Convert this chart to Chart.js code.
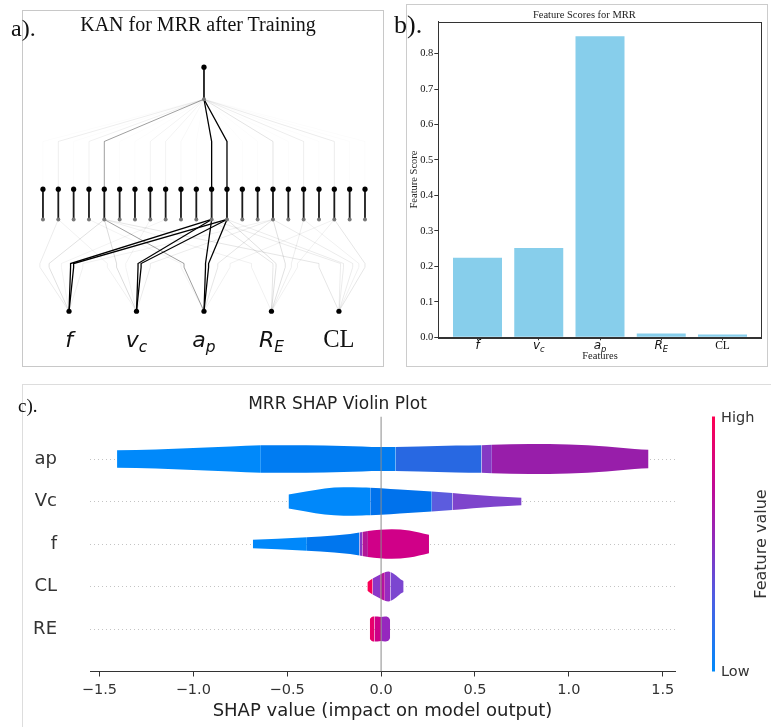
<!DOCTYPE html>
<html>
<head>
<meta charset="utf-8">
<script src="https://cdn.jsdelivr.net/npm/chart.js@4.4.1/dist/chart.umd.min.js"></script>
<style>
html, body { margin: 0; padding: 0; background: #fff; }
body { position: relative; width: 771px; height: 727px; overflow: hidden; }
.box { position: absolute; box-sizing: border-box; }
canvas { position: absolute; }
.tag { position: absolute; font-family: "Liberation Serif", "Times New Roman", serif; color: #111; line-height: 1; white-space: nowrap; z-index: 5; }
</style>
</head>
<body>
<div class="box" style="left:22px;top:10px;width:362px;height:357px;border:1px solid #c8c8c8;"></div>
<div class="box" style="left:406px;top:4px;width:362px;height:363px;border:1px solid #cccccc;"></div>
<div class="box" style="left:22px;top:384px;width:749px;height:343px;border-left:1px solid #dddddd;border-top:1px solid #dddddd;"></div>

<canvas id="kan" width="360" height="336" style="left:23px;top:30px;width:360px;height:336px;"></canvas>
<canvas id="scores" width="359" height="361" style="left:407px;top:5px;width:359px;height:361px;"></canvas>
<canvas id="shap" width="771" height="342" style="left:0px;top:385px;width:771px;height:342px;"></canvas>

<div class="tag" style="left:11px;top:16px;font-size:24px;">a).</div>
<div class="tag" style="left:48px;top:14px;width:300px;text-align:center;font-size:20px;">KAN for MRR after Training</div>
<div class="tag" style="left:394px;top:12px;font-size:26px;">b).</div>
<div class="tag" style="left:18px;top:396px;font-size:19px;">c).</div>

<script>
// ---------- a) KAN network ----------
const inputNames = ["f", "v_c", "a_p", "R_E", "CL"];
const hiddenCount = 22;
// edge strength input -> hidden node (rows: f, vc, ap, RE, CL)
const layer0Strength = [
    [0, 0.08, 0, 0, 0.12, 0, 0, 0, 0.05, 0, 0, 1, 1, 0, 0, 0.06, 0, 0, 0, 0, 0, 0],
    [0, 0.06, 0, 0, 0.14, 0, 0, 0.05, 0, 0, 0, 1, 1, 0, 0, 0.08, 0, 0, 0, 0, 0, 0],
    [0, 0, 0, 0.05, 0.38, 0, 0, 0, 0, 0, 0, 1, 1, 0, 0, 0.1, 0, 0, 0, 0.06, 0, 0],
    [0, 0, 0, 0, 0.06, 0, 0, 0, 0, 0, 0, 0.1, 0.12, 0, 0, 0.12, 0, 0.07, 0, 0.06, 0, 0],
    [0, 0, 0, 0, 0.1, 0, 0, 0, 0, 0, 0, 0.08, 0.08, 0, 0, 0.08, 0, 0.06, 0, 0.1, 0, 0]
];
// edge strength hidden node -> output
const layer1Strength = [0.015, 0.07, 0.015, 0.06, 0.38, 0.015, 0.015, 0.05, 0.05, 0.03, 0.015, 1, 1, 0.015, 0.015, 0.11, 0.015, 0.07, 0.015, 0.08, 0.015, 0.015];

// ---------- b) feature scores ----------
const scoreLabels = ["f", "v_c", "a_p", "R_E", "CL"];
const scoreValues = [0.224, 0.252, 0.849, 0.0105, 0.0078];

// ---------- c) SHAP violins ----------
const violinFeatures = ["ap", "Vc", "f", "CL", "RE"];
const shapTicks = [-1.5, -1.0, -0.5, 0.0, 0.5, 1.0, 1.5];

const apShap = [-1.406, -1.2, -1.0, -0.8, -0.64, -0.4, -0.2, 0.0, 0.078, 0.2, 0.4, 0.535, 0.59, 0.79, 1.0, 1.2, 1.35, 1.424];
const apDensity = [0.205, 0.224, 0.259, 0.294, 0.322, 0.325, 0.306, 0.282, 0.282, 0.294, 0.318, 0.325, 0.334, 0.353, 0.341, 0.294, 0.235, 0.216];
const vcShap = [-0.493, -0.4, -0.3, -0.2, -0.1, -0.058, 0.0, 0.1, 0.27, 0.38, 0.49, 0.6, 0.748];
const vcDensity = [0.165, 0.235, 0.306, 0.334, 0.329, 0.325, 0.313, 0.282, 0.235, 0.2, 0.158, 0.122, 0.087];
const fShap = [-0.683, -0.55, -0.395, -0.25, -0.165, -0.115, -0.1, -0.07, 0.057, 0.15, 0.255];
const fDensity = [0.099, 0.125, 0.16, 0.2, 0.235, 0.271, 0.282, 0.306, 0.348, 0.318, 0.216];
const clShap = [-0.073, -0.045, -0.005, 0.02, 0.039, 0.05, 0.08, 0.105, 0.12];
const clDensity = [0.099, 0.188, 0.282, 0.334, 0.353, 0.341, 0.259, 0.165, 0.129];
const reShap = [-0.06, -0.05, -0.035, -0.02, 0.0, 0.02, 0.04, 0.048];
const reDensity = [0.235, 0.282, 0.294, 0.294, 0.282, 0.294, 0.271, 0.212];

// colour of each stretch of a violin: [upper x bound, colour]
const violinBands = {
    ap: [[-0.64, "rgb(0,137,250)"], [0.078, "rgb(0,124,242)"], [0.535, "rgb(40,104,226)"], [0.59, "rgb(132,58,196)"], [Infinity, "rgb(152,30,170)"]],
    Vc: [[-0.058, "rgb(0,136,250)"], [0.27, "rgb(0,114,236)"], [0.38, "rgb(92,92,222)"], [Infinity, "rgb(126,68,204)"]],
    f: [[-0.395, "rgb(0,136,250)"], [-0.115, "rgb(0,118,238)"], [-0.1, "rgb(130,60,200)"], [-0.07, "rgb(178,22,152)"], [Infinity, "rgb(208,0,136)"]],
    CL: [[-0.045, "rgb(250,0,86)"], [-0.005, "rgb(140,55,200)"], [0.02, "rgb(184,18,158)"], [0.05, "rgb(150,45,192)"], [Infinity, "rgb(124,70,208)"]],
    RE: [[-0.035, "rgb(232,0,108)"], [0.0, "rgb(204,0,136)"], [Infinity, "rgb(150,40,190)"]]
};
const violinData = {
    ap: [apShap, apDensity],
    Vc: [vcShap, vcDensity],
    f: [fShap, fDensity],
    CL: [clShap, clDensity],
    RE: [reShap, reDensity]
};
const colorbarStops = [[0, "rgb(0,138,250)"], [0.3, "rgb(80,92,226)"], [0.5, "rgb(140,45,190)"], [0.72, "rgb(192,10,150)"], [1, "rgb(255,0,82)"]];

// text with an optional subscript, e.g. "v_c"
function drawMathLabel(ctx, label, cx, baseY, size, romanSize) {
    const [base, sub] = label.split("_");
    ctx.save();
    ctx.fillStyle = "#111";
    ctx.textBaseline = "alphabetic";
    if (!sub && base.length > 1) {
        ctx.font = `${romanSize}px "Liberation Serif"`;
        ctx.textAlign = "center";
        ctx.fillText(base, cx, baseY);
    } else {
        const mainFont = `italic ${size}px "DejaVu Sans"`;
        const subFont = `italic ${size * 0.7}px "DejaVu Sans"`;
        ctx.font = mainFont;
        const w1 = ctx.measureText(base).width;
        ctx.font = subFont;
        const w2 = sub ? ctx.measureText(sub).width : 0;
        const left = cx - (w1 + w2) / 2;
        ctx.textAlign = "left";
        ctx.font = mainFont;
        ctx.fillText(base, left, baseY);
        if (sub) {
            ctx.font = subFont;
            ctx.fillText(sub, left + w1, baseY + size * 0.22);
        }
    }
    ctx.restore();
}

// ---------- chart a ----------
const inputX = inputNames.map((_, i) => (i + 0.5) / inputNames.length);
const hiddenX = Array.from({ length: hiddenCount }, (_, j) => (j + 0.5) / hiddenCount);
const actX = (i, j) => (i * hiddenCount + j + 0.5) / (inputNames.length * hiddenCount);
const level = { input: 0, act0: 0.5, hidSum: 1, hidNode: 1.33, act1: 1.83, outSum: 2.31, outNode: 2.66 };

const edge = (pts, s) => ({
    data: pts.map(([x, y]) => ({ x, y })),
    showLine: true,
    borderColor: `rgba(0,0,0,${s})`,
    borderWidth: s > 0.5 ? 1.3 : 1,
    pointRadius: 0,
    order: 2 - s
});

const kanSets = [];
layer0Strength.forEach((row, i) => row.forEach((s, j) => {
    if (!s) return;
    const mx = actX(i, j);
    kanSets.push(edge([[inputX[i], level.input], [mx, level.act0 - 0.02], [mx, level.act0 + 0.02], [hiddenX[j], level.hidSum]], s));
}));
layer1Strength.forEach((s, j) => {
    kanSets.push(edge([[hiddenX[j], level.hidNode], [hiddenX[j], level.act1 - 0.02], [hiddenX[j], level.act1 + 0.02], [0.5, level.outSum]], s));
});
hiddenX.forEach((hx) => {
    kanSets.push({ data: [{ x: hx, y: level.hidSum }, { x: hx, y: level.hidNode }], showLine: true, borderColor: "#1a1a1a", borderWidth: 1.8, pointRadius: 0, order: 0 });
});
kanSets.push({ data: [{ x: 0.5, y: level.outSum }, { x: 0.5, y: level.outNode }], showLine: true, borderColor: "#1a1a1a", borderWidth: 1.8, pointRadius: 0, order: 0 });
const dots = (pts, r, color) => ({ data: pts, pointRadius: r, backgroundColor: color, borderWidth: 0, showLine: false, order: -1 });
kanSets.push(dots(hiddenX.map((x) => ({ x, y: level.hidSum })), 2, "#777"));
kanSets.push(dots(hiddenX.map((x) => ({ x, y: level.hidNode })), 2.6, "#000"));
kanSets.push(dots(inputX.map((x) => ({ x, y: level.input })), 2.6, "#000"));
kanSets.push(dots([{ x: 0.5, y: level.outSum }], 2, "#777"));
kanSets.push(dots([{ x: 0.5, y: level.outNode }], 2.6, "#000"));

new Chart(document.getElementById("kan"), {
    type: "scatter",
    data: { datasets: kanSets },
    options: {
        responsive: false,
        animation: false,
        events: [],
        layout: { padding: 0 },
        scales: {
            x: { type: "linear", display: false, min: -0.0246, max: 1.0188 },
            y: { type: "linear", display: false, min: -0.553, max: 3.021 }
        },
        plugins: { legend: { display: false }, tooltip: { enabled: false } }
    },
    plugins: [{
        id: "inputLabels",
        afterDraw(chart) {
            const { ctx, scales: { x, y } } = chart;
            inputNames.forEach((name, i) => {
                drawMathLabel(ctx, name, x.getPixelForValue(inputX[i]), y.getPixelForValue(-0.394), 22, 24.5);
            });
        }
    }]
});

// ---------- chart b ----------
new Chart(document.getElementById("scores"), {
    type: "bar",
    data: {
        datasets: [{
            data: scoreValues.map((v, i) => ({ x: i, y: v })),
            backgroundColor: "#87CEEB",
            borderWidth: 0,
            categoryPercentage: 1,
            barPercentage: 0.8
        }]
    },
    options: {
        responsive: false,
        animation: false,
        events: [],
        layout: { padding: { left: 0, right: 4.3, top: 0, bottom: 0 } },
        scales: {
            x: {
                type: "linear",
                min: -0.64,
                max: 4.64,
                offset: false,
                afterBuildTicks: (s) => { s.ticks = scoreLabels.map((_, i) => ({ value: i })); },
                afterFit: (s) => { s.height = 28.7; },
                ticks: { callback: () => "", padding: 0 },
                grid: { offset: false, drawOnChartArea: false, tickLength: 3, tickColor: "#333" },
                border: { color: "#333" },
                title: { display: true, text: "Features", color: "#222", font: { family: "Liberation Serif", size: 10.5 }, padding: { top: 0, bottom: 3.3 } }
            },
            y: {
                min: 0,
                max: 0.89,
                afterFit: (s) => { s.width = 31.3; },
                ticks: { stepSize: 0.1, includeBounds: false, callback: (v) => v.toFixed(1), color: "#111", font: { family: "Liberation Serif", size: 10.5 }, padding: 1 },
                grid: { drawOnChartArea: false, tickLength: 4, tickColor: "#333" },
                border: { color: "#333" },
                title: { display: true, text: "Feature Score", color: "#222", font: { family: "Liberation Serif", size: 10.5 }, padding: { top: 1, bottom: 0 } }
            }
        },
        plugins: {
            legend: { display: false },
            tooltip: { enabled: false },
            title: { display: true, text: "Feature Scores for MRR", color: "#222", font: { family: "Liberation Serif", size: 10.5, weight: "normal" }, padding: { top: 4, bottom: 0.1 } }
        }
    },
    plugins: [{
        id: "frameAndLabels",
        afterDraw(chart) {
            const { ctx, chartArea: a, scales: { x } } = chart;
            ctx.save();
            ctx.strokeStyle = "#333";
            ctx.lineWidth = 1;
            ctx.strokeRect(Math.round(a.left) + 0.5, Math.round(a.top) + 0.5, Math.round(a.right - a.left), Math.round(a.bottom - a.top));
            ctx.restore();
            scoreLabels.forEach((name, i) => {
                drawMathLabel(ctx, name, x.getPixelForValue(i), a.bottom + 12, 12, 11.5);
            });
        }
    }]
});

// ---------- chart c ----------
const bandColor = (name, x) => violinBands[name].find(([end]) => x < end)[1];
const shapSets = [{
    data: [{ x: 0, y: -1 }, { x: 0, y: 5 }],
    borderColor: "#8a8a8a",
    borderWidth: 1,
    pointRadius: 0,
    fill: false
}];
violinFeatures.forEach((name, k) => {
    const row = violinFeatures.length - 1 - k;
    const [xs, ds] = violinData[name];
    shapSets.push({
        data: xs.map((x, i) => ({ x, y: row + ds[i] })),
        borderWidth: 0,
        borderColor: "rgba(0,0,0,0)",
        backgroundColor: violinBands[name][0][1],
        pointRadius: 0,
        cubicInterpolationMode: "monotone",
        fill: "+1",
        segment: { backgroundColor: (c) => bandColor(name, (c.p0.parsed.x + c.p1.parsed.x) / 2) }
    });
    shapSets.push({
        data: xs.map((x, i) => ({ x, y: row - ds[i] })),
        borderWidth: 0,
        borderColor: "rgba(0,0,0,0)",
        pointRadius: 0,
        cubicInterpolationMode: "monotone",
        fill: false
    });
});

new Chart(document.getElementById("shap"), {
    type: "line",
    data: { datasets: shapSets },
    options: {
        responsive: false,
        animation: false,
        events: [],
        layout: { padding: { left: 0, right: 96, top: 0, bottom: 0 } },
        scales: {
            x: {
                type: "linear",
                min: -1.55,
                max: 1.565,
                afterBuildTicks: (s) => { s.ticks = shapTicks.map((v) => ({ value: v })); },
                afterFit: (s) => { s.height = 55.5; },
                ticks: { callback: (v) => v.toFixed(1).replace("-", "\u2212"), color: "#333", font: { family: "DejaVu Sans", size: 14.5 }, padding: 4.8, maxRotation: 0, autoSkip: false },
                grid: { drawOnChartArea: false, tickLength: 5, tickColor: "#333" },
                border: { color: "#333" },
                title: { display: true, text: "SHAP value (impact on model output)", color: "#222", font: { family: "DejaVu Sans", size: 18 }, padding: { top: 0, bottom: 5.2 } }
            },
            y: {
                min: -1,
                max: 5,
                afterBuildTicks: (s) => { s.ticks = violinFeatures.map((_, k) => ({ value: violinFeatures.length - 1 - k })); },
                afterFit: (s) => { s.width = 90; s.paddingTop = 0; s.paddingBottom = 0; },
                ticks: { callback: (v) => violinFeatures[violinFeatures.length - 1 - v], color: "#333", font: { family: "DejaVu Sans", size: 18 }, padding: 33 },
                grid: { color: "#c4c4c4", drawTicks: false },
                border: { display: false, dash: [1, 3] }
            }
        },
        plugins: {
            legend: { display: false },
            tooltip: { enabled: false },
            title: { display: true, text: "MRR SHAP Violin Plot", color: "#222", font: { family: "DejaVu Sans", size: 17, weight: "normal" }, padding: { top: 9.8, bottom: 1.3 } }
        }
    },
    plugins: [{
        id: "colorbar",
        afterDraw(chart) {
            const { ctx, chartArea: a } = chart;
            const x = a.right + 37;
            const g = ctx.createLinearGradient(0, a.bottom, 0, a.top);
            colorbarStops.forEach(([p, c]) => g.addColorStop(p, c));
            ctx.save();
            ctx.fillStyle = g;
            ctx.fillRect(x, a.top, 3, a.bottom - a.top);
            ctx.fillStyle = "#333";
            ctx.font = '14.5px "DejaVu Sans"';
            ctx.textBaseline = "middle";
            ctx.textAlign = "left";
            ctx.fillText("High", x + 9, a.top + 2);
            ctx.fillText("Low", x + 9, a.bottom + 1);
            ctx.translate(x + 50, (a.top + a.bottom) / 2);
            ctx.rotate(-Math.PI / 2);
            ctx.textAlign = "center";
            ctx.font = '16px "DejaVu Sans"';
            ctx.fillText("Feature value", 0, 0);
            ctx.restore();
        }
    }]
});
</script>
</body>
</html>
